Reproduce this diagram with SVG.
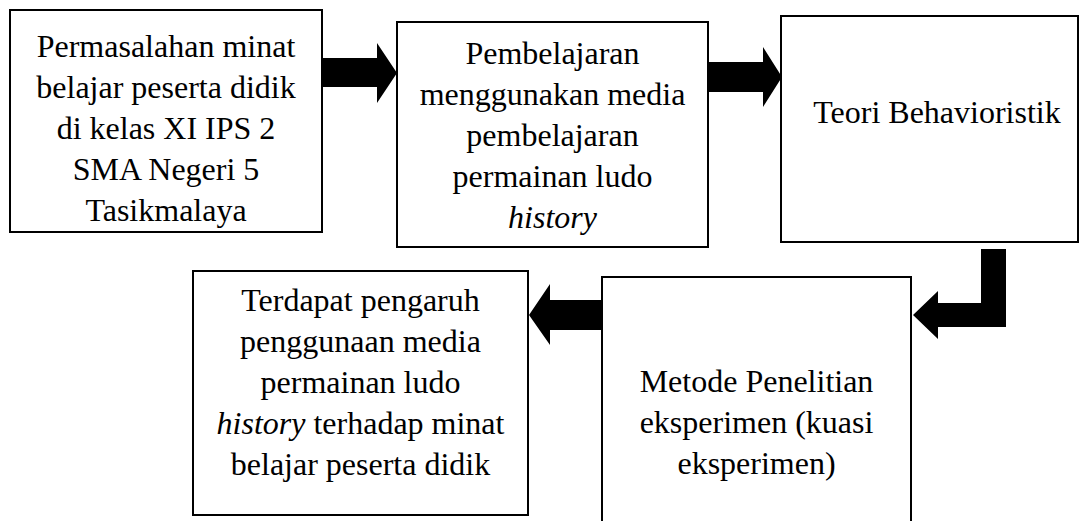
<svg xmlns="http://www.w3.org/2000/svg" width="1080" height="521" viewBox="0 0 1080 521">
  <style>
    .box { fill: #ffffff; stroke: #000000; stroke-width: 2; }
    .arr { fill: #000000; stroke: none; }
  </style>
  <rect width="1080" height="521" fill="#ffffff"/>
  <g font-family="Liberation Serif, 'Times New Roman', serif" font-size="32" text-anchor="middle" fill="#000000">
  <g id="node-permasalahan">
    <rect class="box" x="10" y="10" width="312" height="222"/>
    <text x="166" y="57">Permasalahan minat</text>
    <text x="166" y="98">belajar peserta didik</text>
    <text x="166" y="139">di kelas XI IPS 2</text>
    <text x="166" y="180">SMA Negeri 5</text>
    <text x="166" y="221">Tasikmalaya</text>
  </g>
  <g id="node-pembelajaran">
    <rect class="box" x="397" y="22" width="311" height="225"/>
    <text x="552.5" y="64">Pembelajaran</text>
    <text x="552.5" y="105">menggunakan media</text>
    <text x="552.5" y="146">pembelajaran</text>
    <text x="552.5" y="187">permainan ludo</text>
    <text x="552.5" y="228" font-style="italic">history</text>
  </g>
  <g id="node-teori">
    <rect class="box" x="781" y="16" width="297" height="226"/>
    <text x="937" y="123">Teori Behavioristik</text>
  </g>
  <g id="node-metode">
    <rect class="box" x="602" y="277" width="309" height="260"/>
    <text x="756.5" y="392">Metode Penelitian</text>
    <text x="756.5" y="433">eksperimen (kuasi</text>
    <text x="756.5" y="474">eksperimen)</text>
  </g>
  <g id="node-hasil">
    <rect class="box" x="193" y="271" width="335" height="244"/>
    <text x="360.5" y="311">Terdapat pengaruh</text>
    <text x="360.5" y="352">penggunaan media</text>
    <text x="360.5" y="393">permainan ludo</text>
    <text x="360.5" y="434"><tspan font-style="italic">history</tspan> terhadap minat</text>
    <text x="360.5" y="475">belajar peserta didik</text>
  </g>
  </g>
  <g id="connectors">
    <polygon class="arr" points="323,58 377,58 377,43 397,73 377,103 377,87 323,87"/>
    <polygon class="arr" points="709,62 763,62 763,47 782,77 763,107 763,92 709,92"/>
    <polygon class="arr" points="981,249 1006,249 1006,327 938,327 938,339 913,315 938,291 938,303 981,303"/>
    <polygon class="arr" points="601,300 550,300 550,284 529,315 550,345 550,330 601,330"/>
  </g>
</svg>
